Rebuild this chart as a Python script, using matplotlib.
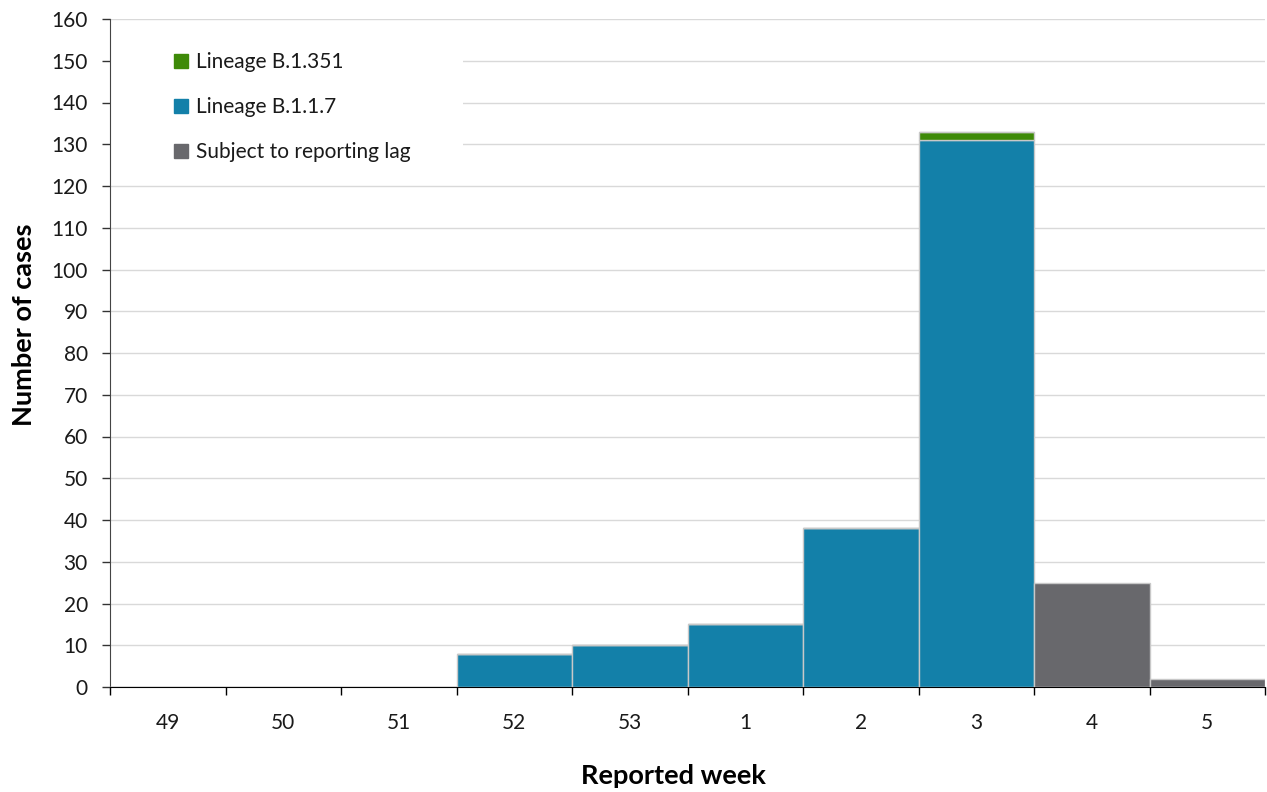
import matplotlib
matplotlib.use("Agg")
import matplotlib.pyplot as plt
import numpy as np
from matplotlib.lines import Line2D
from matplotlib.patches import Rectangle

plt.rcParams['font.family'] = ['Lato', 'DejaVu Sans']

weeks = ["49", "50", "51", "52", "53", "1", "2", "3", "4", "5"]
b117 = [0, 0, 0, 8, 10, 15, 38, 131, 0, 0]
b1351 = [0, 0, 0, 0, 0, 0, 0, 2, 0, 0]
lag = [0, 0, 0, 0, 0, 0, 0, 0, 25, 2]

c_blue = "#1380A9"
c_green = "#3E8A08"
c_gray = "#68686C"
edge = "#C8C8C8"

W, H = 1267, 792
fig = plt.figure(figsize=(W/100, H/100), dpi=100)
ax = fig.add_axes([110/W, 1-687/H, (1265-110)/W, (687-19)/H])

x = np.arange(len(weeks))
b117a = np.array(b117); b1351a = np.array(b1351); laga = np.array(lag)
ax.bar(x, b117a, width=1.0, color=c_blue, edgecolor=edge, linewidth=1, zorder=3)
ax.bar(x, b1351a, width=1.0, bottom=b117a, color=c_green, edgecolor=edge, linewidth=1, zorder=3)
ax.bar(x, laga, width=1.0, bottom=b117a + b1351a, color=c_gray, edgecolor=edge, linewidth=1, zorder=3)

ax.set_xlim(-0.5, len(weeks) - 0.5)
ax.set_ylim(0, 160)
ax.set_yticks(np.arange(0, 161, 10))
ax.yaxis.grid(True, color="#D9D9D9", linewidth=1)
ax.set_axisbelow(True)

# white legend background hiding gridlines
ax.add_patch(Rectangle((0, 123.5), 0.3057, 33.0, transform=ax.get_yaxis_transform(),
                       facecolor='white', edgecolor='none', zorder=1))

ax.set_xticks(np.arange(-0.5, len(weeks), 1.0))
ax.set_xticklabels([])
ax.set_xticks(x, minor=True)
ax.set_xticklabels(weeks, minor=True)
ax.tick_params(axis='x', which='major', length=6, width=1, color='black', direction='out')
ax.tick_params(axis='x', which='minor', length=0, pad=18.5, labelsize=15, labelcolor='#1a1a1a')
ax.tick_params(axis='y', length=6, width=1, color='#333333', labelsize=15, labelcolor='#1a1a1a', pad=10)

for s in ['top', 'right']:
    ax.spines[s].set_visible(False)
ax.spines['left'].set_color('#444444')
ax.spines['bottom'].set_color('black')

ax.set_ylabel("Number of cases", fontsize=19.5, fontweight='bold')
ax.set_xlabel("Reported week", fontsize=19.5, fontweight='bold')
ax.xaxis.set_label_coords((673.5-110)/1155, (687-764)/668)
ax.yaxis.set_label_coords((36-110)/1155, (687-325)/668)

handles = [
    Line2D([], [], marker='s', linestyle='none', markersize=9.5, color=c_green, label="Lineage B.1.351"),
    Line2D([], [], marker='s', linestyle='none', markersize=9.5, color=c_blue, label="Lineage B.1.1.7"),
    Line2D([], [], marker='s', linestyle='none', markersize=9.5, color=c_gray, label="Subject to reporting lag"),
]
leg = fig.legend(handles=handles, loc='upper left', bbox_to_anchor=(171/W, 1-52/H),
                 frameon=False, fontsize=15, labelspacing=1.2, handletextpad=0.2,
                 handlelength=1.0, borderpad=0.0, borderaxespad=0.0)
for t in leg.get_texts():
    t.set_color('#1a1a1a')

fig.savefig("out.png", dpi=100, facecolor='white')
